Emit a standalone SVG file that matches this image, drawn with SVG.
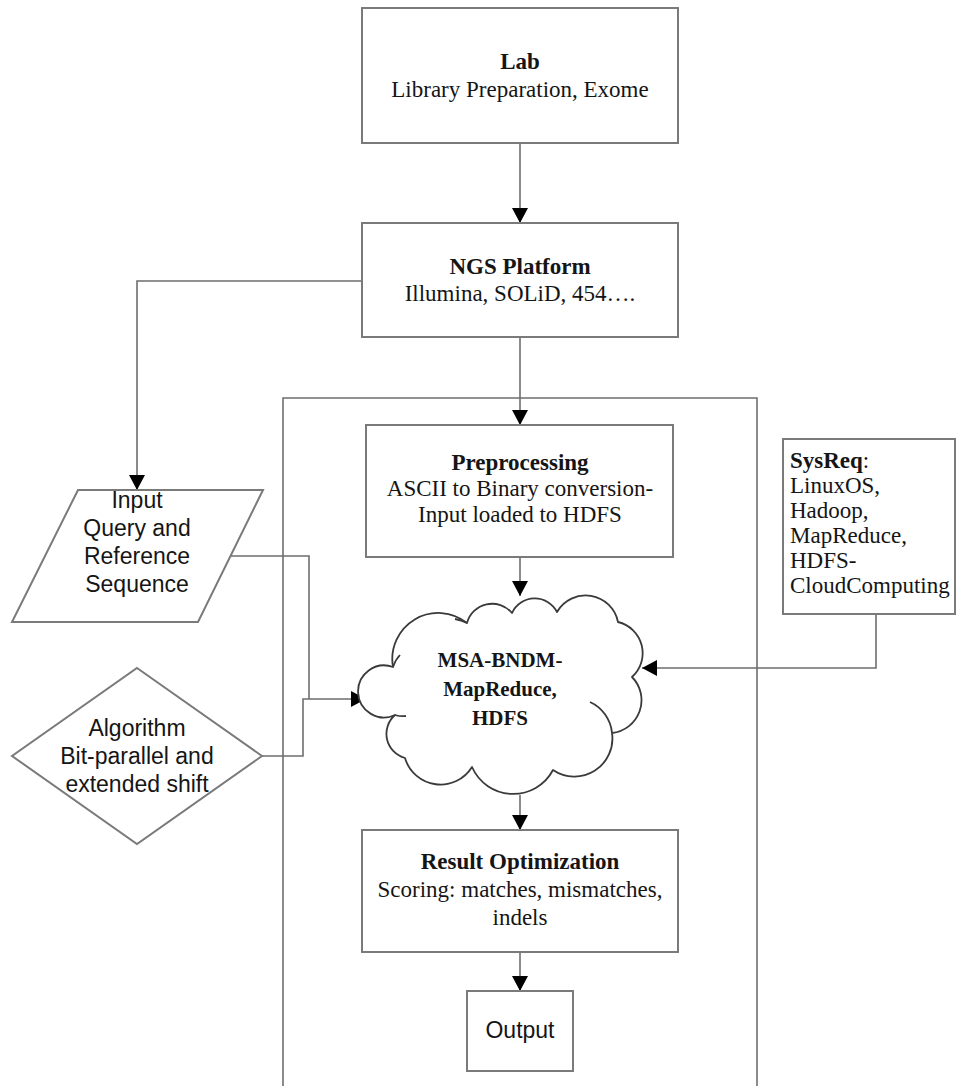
<svg xmlns="http://www.w3.org/2000/svg" width="957" height="1086" viewBox="0 0 957 1086">
<style>
.box{fill:#fff;stroke:#7a7a7a;stroke-width:2}
.ln{fill:none;stroke:#6e6e6e;stroke-width:1.6}
.t{font-family:"Liberation Serif","Times New Roman",serif;font-size:23px;fill:#151515;text-anchor:middle}
.b{font-weight:bold}
.s{font-family:"Liberation Sans",Arial,sans-serif;font-size:23px;fill:#151515;text-anchor:middle}
.cl{fill:#fff;stroke:#3a3a3a;stroke-width:1.8;stroke-linejoin:round}
.tail{fill:none;stroke:#3a3a3a;stroke-width:1.8}
</style>
<defs>
<marker id="ah" markerUnits="userSpaceOnUse" markerWidth="16" markerHeight="16" refX="15" refY="8" orient="auto">
<path d="M0,0 L15,8 L0,16 z" fill="#000"/>
</marker>
</defs>
<rect width="957" height="1086" fill="#fff"/>
<g id="container"><path class="ln" d="M283,1086 V398 H757 V1086"/></g>
<g id="connectors">
<path class="ln" d="M520,143 V223" marker-end="url(#ah)"/>
<path class="ln" d="M362,281 H137 V490" marker-end="url(#ah)"/>
<path class="ln" d="M520,337 V425" marker-end="url(#ah)"/>
<path class="ln" d="M520,557 V596" marker-end="url(#ah)"/>
<path class="ln" d="M231,556 H309 V699"/>
<path class="ln" d="M262,756 H303 V699 H366" marker-end="url(#ah)"/>
<path class="ln" d="M876,614 V668 H642" marker-end="url(#ah)"/>
<path class="ln" d="M520,795 V830" marker-end="url(#ah)"/>
<path class="ln" d="M520,952 V991" marker-end="url(#ah)"/>
</g>
<g id="lab">
<rect class="box" x="362" y="8" width="316" height="135"/>
<text class="t b" x="520" y="69">Lab</text>
<text class="t" x="520" y="97">Library Preparation, Exome</text>
</g>
<g id="ngs">
<rect class="box" x="362" y="223" width="316" height="114"/>
<text class="t b" x="520" y="274">NGS Platform</text>
<text class="t" x="520" y="301">Illumina, SOLiD, 454….</text>
</g>
<g id="input">
<polygon class="box" points="78,490 263,490 198,622 12,622"/>
<text class="s" x="137" y="508">Input</text>
<text class="s" x="137" y="536">Query and</text>
<text class="s" x="137" y="564">Reference</text>
<text class="s" x="137" y="592">Sequence</text>
</g>
<g id="algorithm">
<polygon class="box" points="137,668 262,756 137,844 12,756"/>
<text class="s" x="137" y="736">Algorithm</text>
<text class="s" x="137" y="764">Bit-parallel and</text>
<text class="s" x="137" y="792">extended shift</text>
</g>
<g id="preprocessing">
<rect class="box" x="366" y="425" width="307" height="132"/>
<text class="t b" x="520" y="470">Preprocessing</text>
<text class="t" x="520" y="496">ASCII to Binary conversion-</text>
<text class="t" x="520" y="522">Input loaded to HDFS</text>
</g>
<g id="sysreq">
<rect class="box" x="783" y="439" width="172" height="175"/>
<text class="t" style="text-anchor:start" x="790" y="468"><tspan class="b">SysReq</tspan>:</text>
<text class="t" style="text-anchor:start" x="790" y="493">LinuxOS,</text>
<text class="t" style="text-anchor:start" x="790" y="518">Hadoop,</text>
<text class="t" style="text-anchor:start" x="790" y="543">MapReduce,</text>
<text class="t" style="text-anchor:start" x="790" y="568">HDFS-</text>
<text class="t" style="text-anchor:start" x="790" y="593">CloudComputing</text>
</g>
<g id="cloud">
<path class="cl" d="M393,667 A46,46 0 0 1 467,623 A26,26 0 0 1 512,613 A25,25 0 0 1 557,612 A33,33 0 0 1 618,622 A32,32 0 0 1 632,677 A33,33 0 0 1 612,733 A38,38 0 0 1 553,770 A45,45 0 0 1 472,767 A37,37 0 0 1 405,758 A25,25 0 0 1 395,715 A26,26 0 1 1 393,667 Z"/>
<path class="tail" d="M590,702 A38,38 0 0 1 612,733"/>
<path class="tail" d="M393,667 A30,30 0 0 1 400,655"/>
<path class="tail" d="M467,623 A45,45 0 0 0 455,619"/>
<path class="tail" d="M395,715 A25,25 0 0 0 406,716"/>
<text class="t b" style="font-size:21px" x="500" y="667">MSA-BNDM-</text>
<text class="t b" style="font-size:21px" x="500" y="696">MapReduce,</text>
<text class="t b" style="font-size:21px" x="500" y="725">HDFS</text>
</g>
<g id="result">
<rect class="box" x="362" y="830" width="316" height="122"/>
<text class="t b" x="520" y="869">Result Optimization</text>
<text class="t" x="520" y="897">Scoring: matches, mismatches,</text>
<text class="t" x="520" y="925">indels</text>
</g>
<g id="output">
<rect class="box" x="467" y="991" width="106" height="80"/>
<text class="s" x="520" y="1038">Output</text>
</g>
</svg>
